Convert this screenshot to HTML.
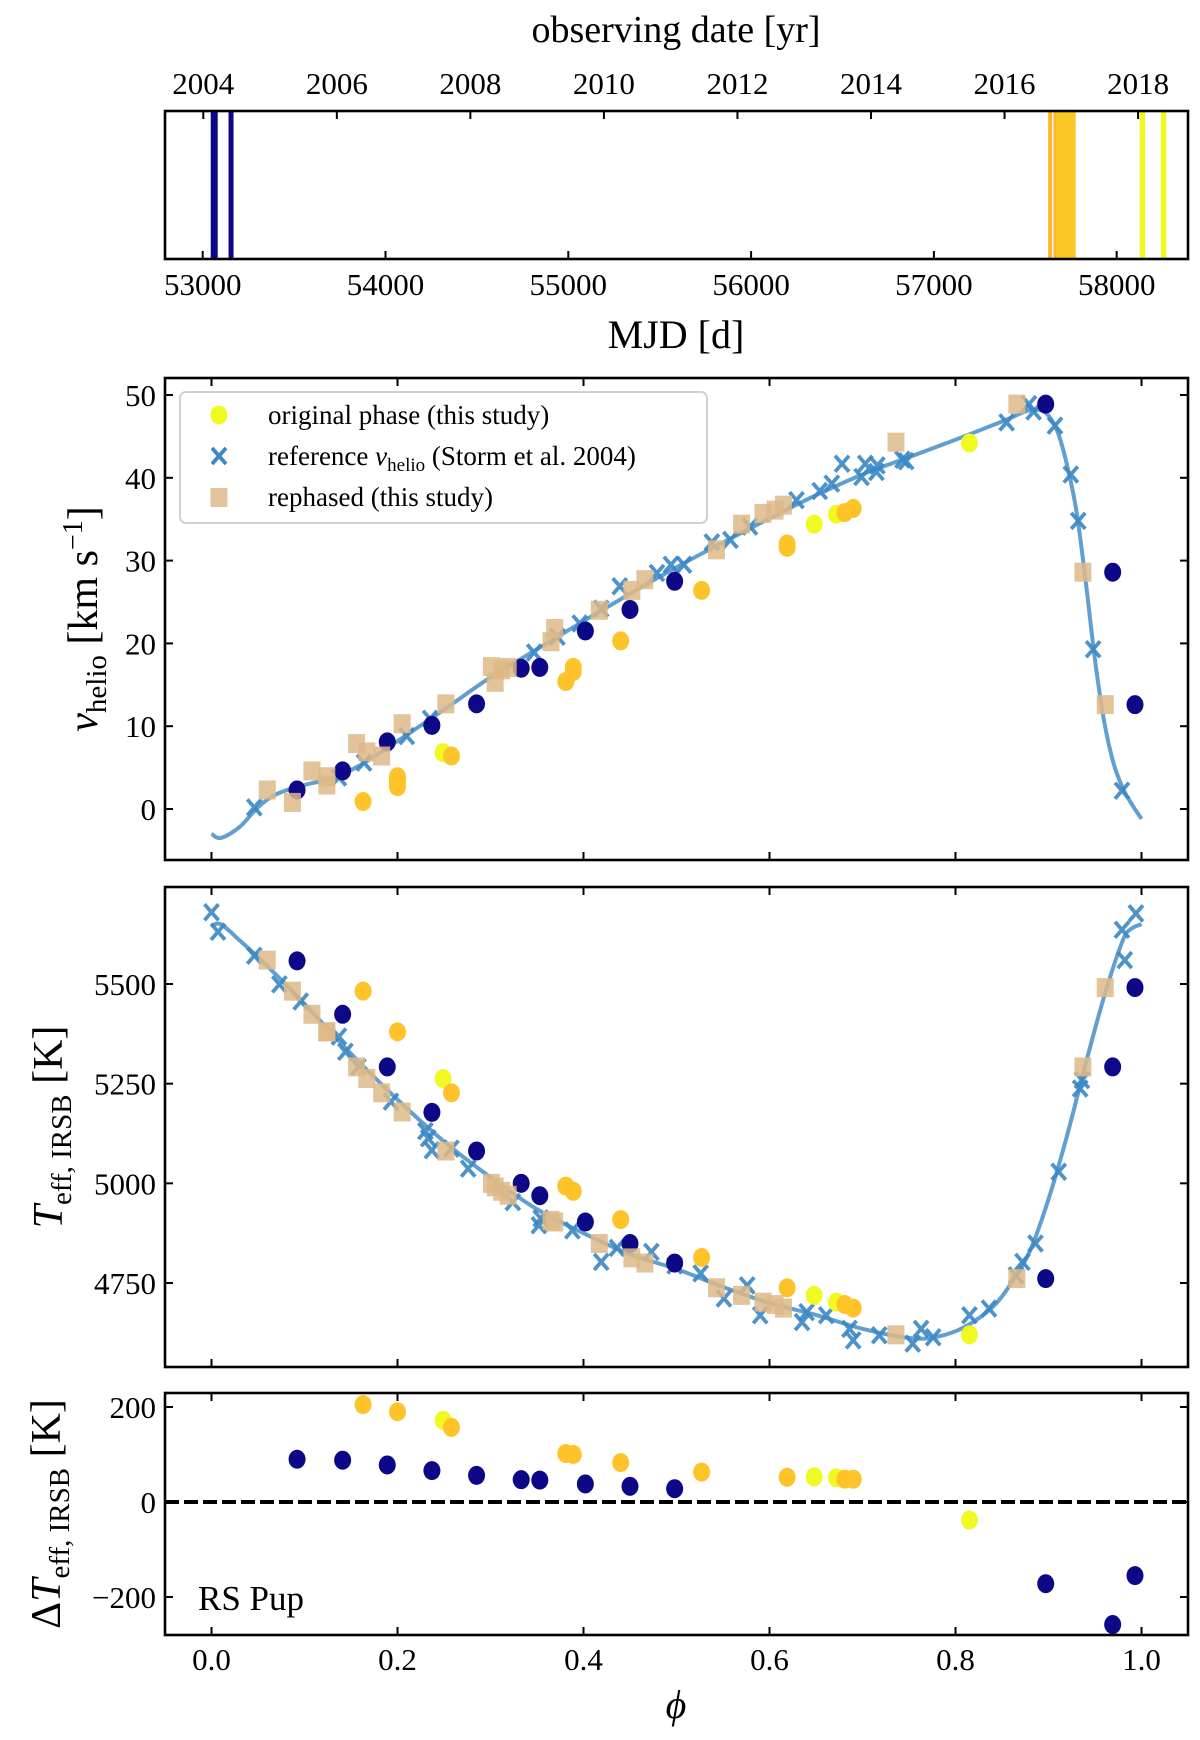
<!DOCTYPE html>
<html><head><meta charset="utf-8"><style>
html,body{margin:0;padding:0;background:#fff;}
svg{display:block;font-family:"Liberation Serif",serif;}
</style></head><body>
<svg id="fig" width="1200" height="1740" viewBox="0 0 1200 1740" xmlns="http://www.w3.org/2000/svg">
<g id="g"></g>
</svg>
<script>
// ---- data ----
const mjdTicks = [53000,54000,55000,56000,57000,58000];
const yearTicks = [2004,2006,2008,2010,2012,2014,2016,2018];
const obsNavy = [53063,53155];
const obsOrange = [57636,57665];
const obsOrangeBand = [57668,57776];
const obsYellow = [58142,58258];

const phiTicks = [0,0.2,0.4,0.6,0.8,1.0];
const vTicks = [0,10,20,30,40,50];
const tTicks = [4750,5000,5250,5500];
const dTicks = [-200,0,200];

const obsPhase = [0.092,0.141,0.189,0.237,0.285,0.333,0.353,0.402,0.45,0.498,0.897,0.969,0.993,
  0.163,0.2,0.249,0.258,0.381,0.389,0.44,0.527,0.619,0.648,0.672,0.681,0.690,0.815];
const obsColor = ['n','n','n','n','n','n','n','n','n','n','n','n','n',
  'o','o','y','o','o','o','o','o','o','y','y','o','o','y'];
const obsV = [2.3,4.6,8.1,10.1,12.7,17.0,17.1,21.5,24.1,27.5,48.9,28.6,12.6,
  0.9,3.3,6.8,6.4,15.4,16.6,20.3,26.4,31.6,34.4,35.6,35.8,36.3,44.2];
const obsT = [5558,5424,5292,5178,5081,5000,4969,4903,4849,4800,4761,5292,5491,
  5482,5380,5263,5227,4993,4980,4909,4814,4738,4719,4702,4696,4687,4620];
const obsDT = [90,88,78,66,56,47,46,38,33,28,-172,-258,-155,
  205,190,172,157,102,100,83,63,52,53,51,48,48,-38];
const extraV = [[0.2,3.9],[0.2,2.7],[0.389,17.1],[0.619,32.0]];

const rePhase = [0.060,0.087,0.108,0.124,0.124,0.156,0.167,0.183,0.205,0.252,0.301,0.305,0.312,0.319,0.365,0.369,0.417,0.452,0.466,0.543,0.570,0.593,0.606,0.615,0.736,0.866,0.937,0.961];
const reV = [2.3,0.8,4.6,3.9,2.9,7.9,6.9,6.4,10.3,12.7,17.2,15.3,16.8,17.1,20.2,21.8,24.0,26.4,27.7,31.3,34.4,35.7,36.1,36.7,44.3,48.9,28.6,12.6];
const reT = [5560,5482,5424,5380,5380,5292,5263,5227,5179,5081,5000,4991,4980,4970,4907,4903,4849,4813,4800,4738,4719,4702,4696,4687,4620,4761,5292,5491];

const refVPhase = [0.046,0.137,0.164,0.210,0.235,0.347,0.372,0.396,0.419,0.439,0.479,0.494,0.508,0.538,0.558,0.579,0.629,0.654,0.667,0.678,0.699,0.703,0.715,0.716,0.743,0.747,0.855,0.879,0.884,0.907,0.924,0.932,0.948,0.979];
const refV = [0.2,3.8,5.6,8.8,10.9,18.9,20.8,22.4,24.2,26.9,28.5,29.5,29.5,32.2,32.5,34.1,37.3,38.4,39.3,41.7,40.1,41.7,40.7,41.5,42.2,42.0,46.7,48.9,48.0,46.3,40.4,34.8,19.3,2.2];
const refTPhase = [0.0,0.007,0.046,0.073,0.096,0.137,0.144,0.158,0.193,0.230,0.233,0.237,0.258,0.276,0.324,0.354,0.352,0.388,0.419,0.436,0.473,0.498,0.526,0.551,0.576,0.59,0.635,0.640,0.661,0.686,0.69,0.718,0.754,0.763,0.776,0.815,0.836,0.865,0.872,0.886,0.911,0.934,0.936,0.982,0.979,0.994];
const refT = [5680,5631,5571,5499,5456,5368,5330,5292,5205,5131,5113,5083,5087,5037,4953,4912,4895,4882,4803,4838,4828,4794,4774,4711,4744,4669,4652,4677,4669,4635,4606,4619,4598,4635,4614,4669,4686,4769,4803,4849,5029,5238,5259,5560,5636,5677];

const fitVPhase = [0,0.01,0.03,0.05,0.07,0.1,0.13,0.16,0.2,0.25,0.3,0.35,0.4,0.45,0.5,0.55,0.6,0.65,0.7,0.75,0.8,0.85,0.875,0.89,0.9,0.91,0.92,0.93,0.94,0.95,0.96,0.97,0.98,0.99,1.0];
const fitV = [-3.0,-3.5,-2.2,0.2,1.8,2.9,3.7,5.3,8.2,12.0,15.9,19.3,22.7,26.0,29.2,32.2,35.1,37.9,40.4,42.5,44.6,46.8,48.0,48.2,47.5,45.5,41.5,36,27.5,18,10.5,5.5,2.5,0.5,-1.2];
const fitTPhase = [0,0.01,0.03,0.06,0.1,0.15,0.2,0.25,0.3,0.35,0.4,0.45,0.5,0.55,0.6,0.65,0.7,0.75,0.78,0.81,0.84,0.86,0.88,0.9,0.92,0.94,0.96,0.98,0.99,1.0];
const fitT = [5645,5650,5610,5545,5450,5325,5210,5105,5015,4935,4875,4822,4785,4740,4700,4670,4635,4612,4615,4640,4690,4750,4830,4960,5120,5300,5470,5610,5640,5650];

// ---- helpers ----
const NS='http://www.w3.org/2000/svg';
const G=document.getElementById('g');
function el(tag,attrs,parent){const e=document.createElementNS(NS,tag);for(const k in attrs)e.setAttribute(k,attrs[k]);(parent||G).appendChild(e);return e;}
const COL={n:'#0d0887',o:'#fdc328',y:'#f0f921'};
const L=165,R=1188;
const phiX=p=>211.5+p*930;
const mjdX=m=>202.7+(m-53000)*0.1828;
const yearX=y=>203.3+(y-2004)*66.77;
const vY=v=>809-v*8.28;
const tY=t=>984+(5500-t)*(299/750);
const dY=d=>1502-d*0.475;

function frame(top,bot,name){
  const r=el('rect',{x:L,y:top,width:R-L,height:bot-top,fill:'none',stroke:'#000','stroke-width':2.6});
  
  
}
function text(x,y,s,size,anchor,name,extra){
  const t=el('text',Object.assign({x:x,y:y,'font-size':size,'text-anchor':anchor||'middle',fill:'#000'},extra||{}));
  t.textContent=s;
  
  
  return t;
}
function phiAxes(top,bot,showLabels){
  phiTicks.forEach(p=>{
    const x=phiX(p);
    el('line',{x1:x,x2:x,y1:bot,y2:bot-8,stroke:'#000','stroke-width':2});
    el('line',{x1:x,x2:x,y1:top,y2:top+8,stroke:'#000','stroke-width':2});
    if(showLabels) text(x,1670,p.toFixed(1),31,'middle','x-tick-label');
  });
}
function yAxis(ticks,fy,labelFn){
  ticks.forEach(v=>{
    const y=fy(v);
    el('line',{x1:L,x2:L+8,y1:y,y2:y,stroke:'#000','stroke-width':2});
    el('line',{x1:R,x2:R-8,y1:y,y2:y,stroke:'#000','stroke-width':2});
    text(156,y+11,labelFn(v),31,'end','y-tick-label');
  });
}
function circle(x,y,c){
  const e=el('ellipse',{cx:x,cy:y,rx:8.5,ry:9.5,fill:COL[c]});
  
  
}
function square(x,y){
  const e=el('rect',{x:x-8.5,y:y-9.5,width:17,height:19,fill:'#deb887','fill-opacity':0.85});
  
  
}
function cross(x,y){
  const e=el('path',{d:`M${x-7} ${y-8}L${x+7} ${y+8}M${x-7} ${y+8}L${x+7} ${y-8}`,stroke:'#3a87c4','stroke-width':3.8,'stroke-opacity':0.9,fill:'none'});
  
  
}
function curve(xs,ys,fx,fy){
  const P=xs.map((x,i)=>[fx(x),fy(ys[i])]);
  let d=`M${P[0][0]} ${P[0][1]}`;
  for(let i=0;i<P.length-1;i++){
    const p0=P[Math.max(i-1,0)],p1=P[i],p2=P[i+1],p3=P[Math.min(i+2,P.length-1)];
    const c1=[p1[0]+(p2[0]-p0[0])/6,p1[1]+(p2[1]-p0[1])/6];
    const c2=[p2[0]-(p3[0]-p1[0])/6,p2[1]-(p3[1]-p1[1])/6];
    d+=`C${c1[0]} ${c1[1]} ${c2[0]} ${c2[1]} ${p2[0]} ${p2[1]}`;
  }
  const e=el('path',{d:d,fill:'none',stroke:'#3a87c4','stroke-width':4,'stroke-opacity':0.8});
  
  
}

// ---- top panel ----
text(676,42,'observing date [yr]',38,'middle','top-axis-title');
yearTicks.forEach(y=>{
  const x=yearX(y);
  el('line',{x1:x,x2:x,y1:111,y2:119,stroke:'#000','stroke-width':2});
  text(x,94,String(y),31,'middle','year-tick-label');
});
mjdTicks.forEach(m=>{
  const x=mjdX(m);
  el('line',{x1:x,x2:x,y1:259,y2:251,stroke:'#000','stroke-width':2});
  text(x,295,String(m),31,'middle','mjd-tick-label');
});
obsNavy.forEach((m,i)=>{const e=el('rect',{x:mjdX(m)-(i?2.5:3.5),y:111,width:i?5:7,height:148,fill:COL.n});});
obsOrange.forEach(m=>{const e=el('rect',{x:mjdX(m)-2,y:111,width:4,height:148,fill:'#fdb42f'});});
{const e=el('rect',{x:mjdX(obsOrangeBand[0]),y:111,width:mjdX(obsOrangeBand[1])-mjdX(obsOrangeBand[0]),height:148,fill:'#fbc926'});}
obsYellow.forEach(m=>{const e=el('rect',{x:mjdX(m)-3,y:111,width:5.5,height:148,fill:COL.y});});
frame(111,259,'timeline-frame');
text(676,348,'MJD [d]',40,'middle','mjd-axis-title');

// ---- v panel ----
curve(fitVPhase,fitV,phiX,vY);
refVPhase.forEach((p,i)=>cross(phiX(p),vY(refV[i])));
obsPhase.forEach((p,i)=>circle(phiX(p),vY(obsV[i]),obsColor[i]));
extraV.forEach(a=>circle(phiX(a[0]),vY(a[1]),'o'));
rePhase.forEach((p,i)=>square(phiX(p),vY(reV[i])));
frame(378,860,'velocity-frame');
phiAxes(378,860,false);
yAxis(vTicks,vY,v=>String(v));
{const t=el('text',{x:0,y:0,'font-size':42,'text-anchor':'middle',transform:'translate(97,619) rotate(-90)'});

t.innerHTML='<tspan font-style="italic">v</tspan><tspan font-size="29" dy="9">helio</tspan><tspan dy="-9"> [km s</tspan><tspan font-size="28" dy="-15">−1</tspan><tspan dy="15">]</tspan>';}
// legend
{const lg=el('g',{});
el('rect',{x:180,y:392,width:527,height:131,rx:6,fill:'#fff','fill-opacity':0.85,stroke:'#d0d0d0','stroke-width':2},lg);
el('ellipse',{cx:219,cy:415,rx:8.5,ry:9.5,fill:COL.y},lg);
el('path',{d:'M212 448L226 464M212 464L226 448',stroke:'#3a87c4','stroke-width':3.8},lg);
el('rect',{x:210.5,y:488,width:17,height:19,fill:'#deb887','fill-opacity':0.85},lg);
const t1=el('text',{x:268,y:424,'font-size':27},lg);t1.textContent='original phase (this study)';
const t2=el('text',{x:268,y:465,'font-size':27},lg);t2.innerHTML='reference <tspan font-style="italic">v</tspan><tspan font-size="19" dy="6">helio</tspan><tspan dy="-6"> (Storm et al. 2004)</tspan>';
const t3=el('text',{x:268,y:506,'font-size':27},lg);t3.textContent='rephased (this study)';}

// ---- T panel ----
curve(fitTPhase,fitT,phiX,tY);
refTPhase.forEach((p,i)=>cross(phiX(p),tY(refT[i])));
obsPhase.forEach((p,i)=>circle(phiX(p),tY(obsT[i]),obsColor[i]));
rePhase.forEach((p,i)=>square(phiX(p),tY(reT[i])));
frame(887,1367,'temperature-frame');
phiAxes(887,1367,false);
yAxis(tTicks,tY,v=>String(v));
{const t=el('text',{x:0,y:0,'font-size':42,'text-anchor':'middle',transform:'translate(62,1127) rotate(-90)'});

t.innerHTML='<tspan font-style="italic">T</tspan><tspan font-size="29" dy="9">eff, IRSB</tspan><tspan dy="-9"> [K]</tspan>';}

// ---- dT panel ----
{const z=el('line',{x1:L,x2:R,y1:dY(0),y2:dY(0),stroke:'#000','stroke-width':4,'stroke-dasharray':'14,5'});}
obsPhase.forEach((p,i)=>circle(phiX(p),dY(obsDT[i]),obsColor[i]));
frame(1393,1635,'difference-frame');
phiAxes(1393,1635,true);
yAxis(dTicks,dY,v=>v<0?'−'+Math.abs(v):String(v));
text(198,1610,'RS Pup',35,'start','star-name-label');
{const t=el('text',{x:0,y:0,'font-size':42,'text-anchor':'middle',transform:'translate(60,1514) rotate(-90)'});

t.innerHTML='Δ<tspan font-style="italic">T</tspan><tspan font-size="29" dy="9">eff, IRSB</tspan><tspan dy="-9"> [K]</tspan>';}
text(676,1718,'ϕ',40,'middle','phase-axis-title',{'font-style':'italic'});
</script>
</body></html>
